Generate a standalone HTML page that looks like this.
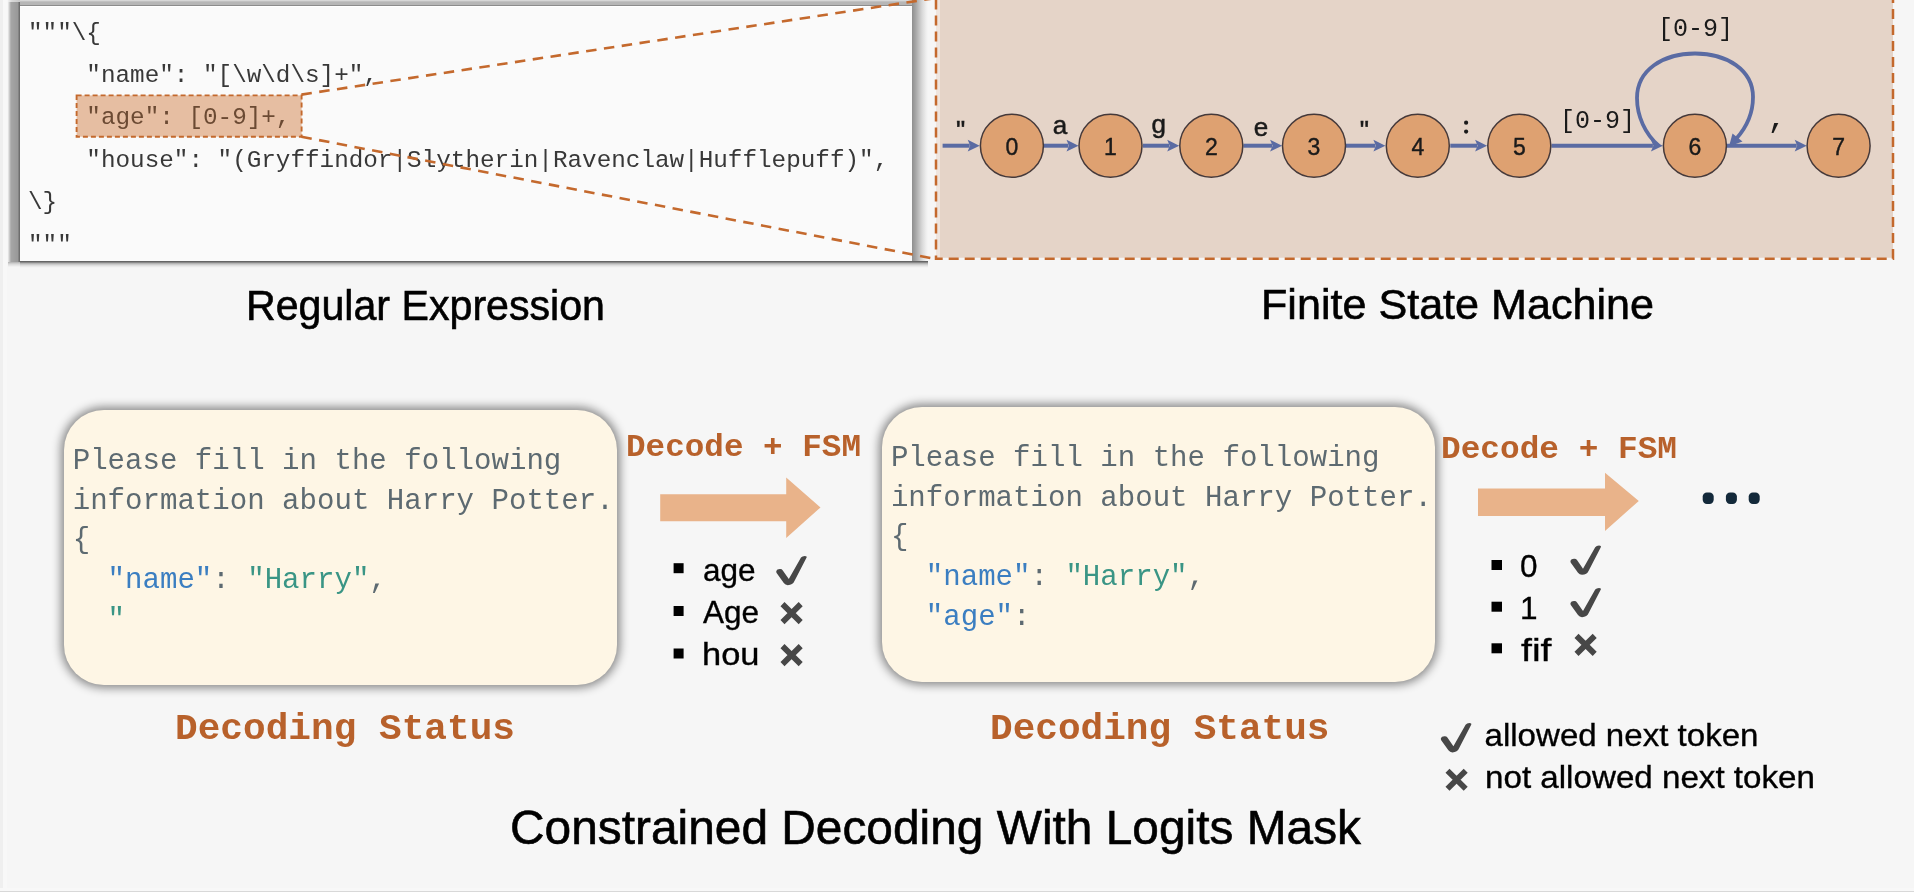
<!DOCTYPE html>
<html><head><meta charset="utf-8">
<style>
html,body{margin:0;padding:0;background:#f6f6f6;width:1914px;height:892px;overflow:hidden;position:relative}
.abs{position:absolute}
svg{font-family:"Liberation Sans",sans-serif;will-change:transform}
svg .mono{font-family:"Liberation Mono",monospace}
</style></head><body>
<div class="abs" style="left:8px;top:2px;width:12px;height:260px;background:linear-gradient(to right,#eeeeee 0,#a6a6a6 3px,#9a9a9a 9px,#9a9a9a 10px,#6e6e6e 11px,#6e6e6e 12px)"></div>
<div class="abs" style="left:8px;top:0;width:12px;height:2px;background:linear-gradient(to right,#f0f0f0 0,#d8d8d8 4px,#c8c8c8 12px)"></div>
<div class="abs" style="left:8px;top:262px;width:12px;height:5px;background:linear-gradient(to bottom,#b0b0b0 0,#d8d8d8 2px,#f6f6f6 5px)"></div>
<div class="abs" style="left:20px;top:0;width:908px;height:6px;background:linear-gradient(to bottom,#e2e2e2 0,#b6b6b6 2px,#b6b6b6 4.5px,#8c8c8c 5px,#8c8c8c 6px)"></div>
<div class="abs" style="left:912px;top:0;width:16px;height:266px;background:linear-gradient(to right,#8e8e8e 0,#a8a8a8 4px,#d8d8d8 10px,#eeeeee 14px,#f6f6f6 16px)"></div>
<div class="abs" style="left:20px;top:261px;width:908px;height:7px;background:linear-gradient(to bottom,#606060 0,#6a6a6a 1px,#a8a8a8 2px,#d8d8d8 4px,#f0f0f0 6px,#f6f6f6 7px)"></div>
<div class="abs" style="left:20px;top:6px;width:892px;height:255px;background:#fafafa;border-top:1px solid #fff;box-sizing:border-box"></div>
<div class="abs" style="left:64px;top:410px;width:553px;height:275px;background:#fef6e5;border-radius:40px;box-shadow:0 0 10px 3px rgba(0,0,0,.45)"></div>
<div class="abs" style="left:882px;top:407px;width:553px;height:275px;background:#fef6e5;border-radius:40px;box-shadow:0 0 10px 3px rgba(0,0,0,.45)"></div>
<svg class="abs" style="left:0;top:0" width="1914" height="892" viewBox="0 0 1914 892">
<!-- code text -->
<g class="mono" font-size="24.3" fill="#383838">
<text x="28" y="39.5" xml:space="preserve">"""\{</text>
<text x="28" y="81.9" xml:space="preserve">    "name": "[\w\d\s]+",</text>
<rect x="76.6" y="95.4" width="225" height="41.3" fill="#e6bea2" stroke="#c4692d" stroke-width="1.9" stroke-dasharray="5 3"/>
<text x="28" y="124.3" xml:space="preserve" fill="#6b4a33">    "age": [0-9]+,</text>
<text x="28" y="166.7" xml:space="preserve">    "house": "(Gryffindor|Slytherin|Ravenclaw|Hufflepuff)",</text>
<text x="28" y="209.1" xml:space="preserve">\}</text>
<text x="28" y="251.5" xml:space="preserve">"""</text>
</g>
<!-- FSM box -->
<rect x="936" y="-10" width="957" height="268" fill="#efe5de"/>
<rect x="940" y="-10" width="953" height="267.5" fill="#e5d4c8"/>
<rect x="936" y="-10" width="957" height="268.7" fill="none" stroke="#c4692d" stroke-width="2.5" stroke-dasharray="10 6"/>
<line x1="301.4" y1="94.6" x2="936" y2="-2" stroke="#c4692d" stroke-width="2.6" stroke-dasharray="10.5 7.5"/>
<line x1="301.4" y1="136.7" x2="936" y2="259" stroke="#c4692d" stroke-width="2.6" stroke-dasharray="10.5 7.5"/>
<!-- arrows -->
<g stroke="#5a6ba3" stroke-width="4" fill="none">
<line x1="942.6" y1="145.7" x2="969.7" y2="145.7"/>
<line x1="1044" y1="145.7" x2="1068.5" y2="145.7"/>
<line x1="1143" y1="145.7" x2="1169.2" y2="145.7"/>
<line x1="1243.4" y1="145.7" x2="1272.1" y2="145.7"/>
<line x1="1346" y1="145.7" x2="1375.4" y2="145.7"/>
<line x1="1450.3" y1="145.7" x2="1477.1" y2="145.7"/>
<line x1="1551.5" y1="145.7" x2="1652.9" y2="145.7"/>
<line x1="1726.8" y1="145.7" x2="1796.7" y2="145.7"/>
<path d="M1659 146 C1645 134,1637 116,1637 98 C1637 70,1663 53.5,1695 53.5 C1727 53.5,1753 70,1753 97 C1753 114,1746 128,1736 139" stroke-width="3.8"/>
</g>
<g fill="#5a6ba3">
<path d="M967.7 139.8 L979.7 145.7 L967.7 151.6 L970.2 145.7 Z"/>
<path d="M1066.5 139.8 L1078.5 145.7 L1066.5 151.6 L1069.0 145.7 Z"/>
<path d="M1167.2 139.8 L1179.2 145.7 L1167.2 151.6 L1169.7 145.7 Z"/>
<path d="M1270.1 139.8 L1282.1 145.7 L1270.1 151.6 L1272.6 145.7 Z"/>
<path d="M1373.4 139.8 L1385.4 145.7 L1373.4 151.6 L1375.9 145.7 Z"/>
<path d="M1475.1 139.8 L1487.1 145.7 L1475.1 151.6 L1477.6 145.7 Z"/>
<path d="M1650.9 139.8 L1662.9 145.7 L1650.9 151.6 L1653.4 145.7 Z"/>
<path d="M1794.7 139.8 L1806.7 145.7 L1794.7 151.6 L1797.2 145.7 Z"/>
<path d="M1732.5 133.5 L1742.5 141.5 L1729 146.5 Z"/>
</g>
<!-- nodes -->
<g fill="#dea171" stroke="#45393a" stroke-width="1.5">
<circle cx="1011.9" cy="145.7" r="31.5"/>
<circle cx="1110.5" cy="145.7" r="31.5"/>
<circle cx="1211.3" cy="145.7" r="31.5"/>
<circle cx="1314" cy="145.7" r="31.5"/>
<circle cx="1417.8" cy="145.7" r="31.5"/>
<circle cx="1519.3" cy="145.7" r="31.5"/>
<circle cx="1694.9" cy="145.7" r="31.5"/>
<circle cx="1838.6" cy="145.7" r="31.5"/>
</g>
<g font-size="23" fill="#1a1a1a" stroke="#1a1a1a" stroke-width="0.4" text-anchor="middle">
<text x="1011.9" y="154.5">0</text>
<text x="1110.5" y="154.5">1</text>
<text x="1211.3" y="154.5">2</text>
<text x="1314" y="154.5">3</text>
<text x="1417.8" y="154.5">4</text>
<text x="1519.3" y="154.5">5</text>
<text x="1694.9" y="154.5">6</text>
<text x="1838.6" y="154.5">7</text>
</g>
<g font-size="26" fill="#1a1a1a" stroke="#1a1a1a" stroke-width="0.5" text-anchor="middle">
<text x="960.5" y="138.8">"</text>
<text x="1060" y="134">a</text>
<text x="1158.8" y="133">g</text>
<text x="1261" y="135.5">e</text>
<text x="1364.4" y="138.8">"</text>
</g>
<g fill="#1a1a1a"><circle cx="1466.1" cy="122.7" r="2.1"/><circle cx="1466.1" cy="131.6" r="2.1"/></g>
<g font-size="26" fill="#1a1a1a" stroke="#1a1a1a" stroke-width="0.5" text-anchor="middle">
</g>
<g class="mono" font-size="22" fill="#1a1a1a" text-anchor="middle">
<text x="1777" y="127" font-size="32">,</text>
<text x="1597.4" y="127.6" font-size="25">[0-9]</text>
<text x="1695.4" y="36" font-size="25">[0-9]</text>
</g>
<!-- labels -->
<text x="246" y="320.2" font-size="42.3" fill="#000" stroke="#000" stroke-width="0.6" textLength="359" lengthAdjust="spacingAndGlyphs">Regular Expression</text>
<text x="1261" y="319.4" font-size="42.3" fill="#000" stroke="#000" stroke-width="0.6" textLength="393" lengthAdjust="spacingAndGlyphs">Finite State Machine</text>
<!-- box texts -->
<g class="mono" font-size="29.08" fill="#5d6a71">
<text x="72.7" y="469.2" xml:space="preserve">Please fill in the following</text>
<text x="72.7" y="508.8" xml:space="preserve">information about Harry Potter.</text>
<text x="72.7" y="548.4" xml:space="preserve">{</text>
<text x="72.7" y="588" xml:space="preserve">  <tspan fill="#3b7ec1">"name"</tspan>: <tspan fill="#3a9585">"Harry"</tspan>,</text>
<text x="72.7" y="627.6" xml:space="preserve" fill="#3a9585">  "</text>
<text x="890.9" y="466.2" xml:space="preserve">Please fill in the following</text>
<text x="890.9" y="505.8" xml:space="preserve">information about Harry Potter.</text>
<text x="890.9" y="545.4" xml:space="preserve">{</text>
<text x="890.9" y="585" xml:space="preserve">  <tspan fill="#3b7ec1">"name"</tspan>: <tspan fill="#3a9585">"Harry"</tspan>,</text>
<text x="890.9" y="624.6" xml:space="preserve">  <tspan fill="#3b7ec1">"age"</tspan>:</text>
</g>
<g class="mono" font-weight="bold" font-size="32" fill="#b8612b">
<text x="626" y="456.4" textLength="235" lengthAdjust="spacingAndGlyphs" xml:space="preserve">Decode + FSM</text>
<text x="1441" y="457.6" textLength="236" lengthAdjust="spacingAndGlyphs" xml:space="preserve">Decode + FSM</text>
<text x="175" y="738.6" font-size="37" textLength="340" lengthAdjust="spacingAndGlyphs" xml:space="preserve">Decoding Status</text>
<text x="990" y="738.6" font-size="37" textLength="339.5" lengthAdjust="spacingAndGlyphs" xml:space="preserve">Decoding Status</text>
</g>
<!-- big arrows -->
<path fill="#e9b38a" d="M660.2 494.3 H786.2 V477.6 L820.5 507.4 L786.2 538 V521.3 H660.2 Z"/>
<path fill="#e9b38a" d="M1478 488.6 H1605 V472.7 L1638.8 500.9 L1605 531 V515.9 H1478 Z"/>
<!-- dots -->
<g fill="#13293a">
<rect x="1702.7" y="492.4" width="11" height="11.5" rx="4.2"/>
<rect x="1725.9" y="492.4" width="11" height="11.5" rx="4.2"/>
<rect x="1748.7" y="492.4" width="11" height="11.5" rx="4.2"/>
</g>
<!-- lists -->
<g fill="#000">
<rect x="673.6" y="563.2" width="10" height="10"/>
<rect x="673.6" y="606" width="10" height="10"/>
<rect x="673.6" y="648.5" width="10" height="10"/>
<rect x="1491.5" y="560" width="10.5" height="10"/>
<rect x="1491.5" y="601.7" width="10.5" height="10"/>
<rect x="1491.5" y="643.3" width="10.5" height="10"/>
</g>
<g font-size="31.5" fill="#000" stroke="#000" stroke-width="0.35">
<text x="703" y="580.6">age</text>
<text x="703" y="623">Age</text>
<text x="702" y="664.6" textLength="57.5" lengthAdjust="spacingAndGlyphs">hou</text>
<text x="1520" y="576.6">0</text>
<text x="1520" y="619">1</text>
<text x="1521" y="660.5" textLength="30.5" lengthAdjust="spacingAndGlyphs">fif</text>
<text x="1484.5" y="745.8" textLength="274" lengthAdjust="spacingAndGlyphs">allowed next token</text>
<text x="1485" y="787.5" textLength="330" lengthAdjust="spacingAndGlyphs">not allowed next token</text>
</g>
<!-- checks / crosses -->
<defs>
<path id="ck" d="M0.5 15.5 Q1 13.5 4 13.5 Q6 13.3 7 14.8 L13 23.5 L25.2 2 Q26.5 0.3 29 0.3 Q31.5 0.5 30.8 2 L18.8 25.2 Q17 29.5 12 29.6 Q9.5 29.6 8 27.5 L0.8 17.5 Q0.3 16.5 0.5 15.5 Z"/>
<path id="cx" d="M-9.1 -9 L9.1 9 M9.1 -9 L-9.1 9" stroke-width="5.7" stroke-linecap="butt" fill="none"/>
</defs>
<g fill="#474747" stroke="#474747">
<use href="#ck" x="775.8" y="555.6" stroke="none"/>
<use href="#ck" x="1570" y="545.2" stroke="none"/>
<use href="#ck" x="1570" y="587.6" stroke="none"/>
<use href="#ck" x="1440.4" y="722.8" stroke="none"/>
<use href="#cx" x="791.6" y="613.1"/>
<use href="#cx" x="791.6" y="655.1"/>
<use href="#cx" x="1585.6" y="644.9"/>
<use href="#cx" x="1456.6" y="779.7"/>
</g>
<text x="510" y="844.4" font-size="47.5" fill="#000" stroke="#000" stroke-width="0.6" textLength="851" lengthAdjust="spacingAndGlyphs">Constrained Decoding With Logits Mask</text>
</svg>
<div class="abs" style="left:0;top:888px;width:1914px;height:3px;background:#f8f8f8"></div>
<div class="abs" style="left:0;top:0;width:3px;height:888px;background:#efefef"></div>
<div class="abs" style="left:3px;top:0;width:4px;height:888px;background:#f8f8f8"></div>
<div class="abs" style="left:0;top:891px;width:1914px;height:1px;background:#d8d8d8"></div>
</body></html>
